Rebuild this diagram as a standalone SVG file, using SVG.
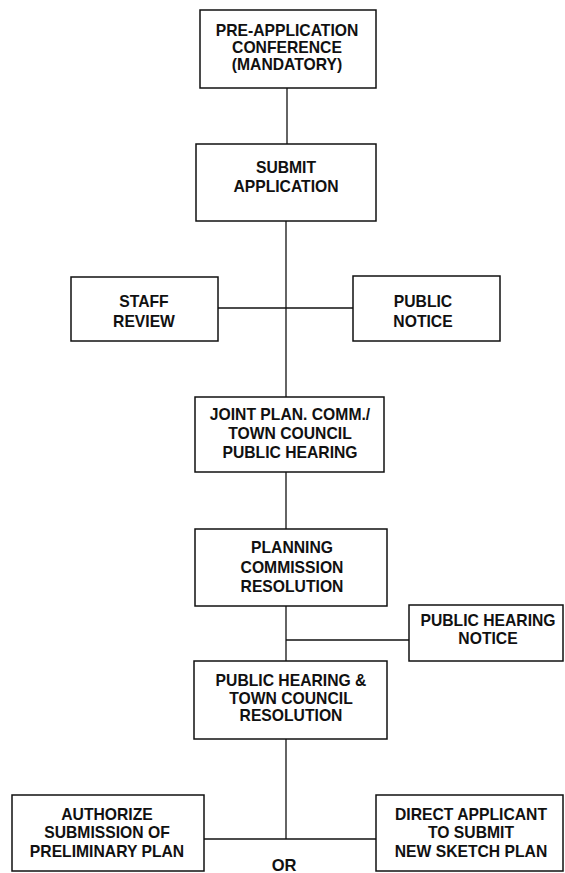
<svg xmlns="http://www.w3.org/2000/svg" width="565" height="873" viewBox="0 0 565 873">
<style>
.box{fill:#fff;stroke:#111;stroke-width:1.5}
.t{font-family:"Liberation Sans",Arial,sans-serif;font-weight:bold;font-size:15.7px;fill:#111;text-anchor:middle}
.c{stroke:#111;stroke-width:1.3;fill:none}
</style>
<rect width="565" height="873" fill="#fff"/>
<g id="connectors">
<line class="c" x1="287" y1="88" x2="287" y2="144"/>
<line class="c" x1="286" y1="221" x2="286" y2="397"/>
<line class="c" x1="218" y1="308" x2="353" y2="308"/>
<line class="c" x1="286" y1="472" x2="286" y2="529"/>
<line class="c" x1="286" y1="606" x2="286" y2="661"/>
<line class="c" x1="286" y1="640" x2="409" y2="640"/>
<line class="c" x1="286" y1="739" x2="286" y2="839"/>
<line class="c" x1="204" y1="839" x2="376" y2="839"/>
</g>
<g id="pre-application">
<rect class="box" x="200" y="10" width="176" height="78"/>
<text class="t" x="287" y="36">PRE-APPLICATION</text>
<text class="t" x="287" y="53">CONFERENCE</text>
<text class="t" x="287" y="70">(MANDATORY)</text>
</g>
<g id="submit">
<rect class="box" x="196" y="144" width="180" height="77"/>
<text class="t" x="286" y="173">SUBMIT</text>
<text class="t" x="286" y="192">APPLICATION</text>
</g>
<g id="staff-review">
<rect class="box" x="71" y="277" width="147" height="64"/>
<text class="t" x="144" y="307">STAFF</text>
<text class="t" x="144" y="327">REVIEW</text>
</g>
<g id="public-notice">
<rect class="box" x="353" y="276" width="147" height="65"/>
<text class="t" x="423" y="307">PUBLIC</text>
<text class="t" x="423" y="327">NOTICE</text>
</g>
<g id="joint-hearing">
<rect class="box" x="195" y="397" width="189" height="75"/>
<text class="t" x="290" y="420">JOINT PLAN. COMM./</text>
<text class="t" x="290" y="439">TOWN COUNCIL</text>
<text class="t" x="290" y="458">PUBLIC HEARING</text>
</g>
<g id="planning-resolution">
<rect class="box" x="195" y="529" width="192" height="77"/>
<text class="t" x="292" y="553">PLANNING</text>
<text class="t" x="292" y="573">COMMISSION</text>
<text class="t" x="292" y="592">RESOLUTION</text>
</g>
<g id="public-hearing-notice">
<rect class="box" x="409" y="605" width="154" height="56"/>
<text class="t" x="488" y="626">PUBLIC HEARING</text>
<text class="t" x="488" y="644">NOTICE</text>
</g>
<g id="council-resolution">
<rect class="box" x="194" y="661" width="193" height="78"/>
<text class="t" x="291" y="686">PUBLIC HEARING &amp;</text>
<text class="t" x="291" y="704">TOWN COUNCIL</text>
<text class="t" x="291" y="721">RESOLUTION</text>
</g>
<g id="authorize">
<rect class="box" x="12" y="795" width="192" height="76"/>
<text class="t" x="107" y="820">AUTHORIZE</text>
<text class="t" x="107" y="838">SUBMISSION OF</text>
<text class="t" x="107" y="857">PRELIMINARY PLAN</text>
</g>
<g id="direct-applicant">
<rect class="box" x="376" y="795" width="187" height="76"/>
<text class="t" x="471" y="820">DIRECT APPLICANT</text>
<text class="t" x="471" y="838">TO SUBMIT</text>
<text class="t" x="471" y="857">NEW SKETCH PLAN</text>
</g>
<g id="or-label">
<text class="t" x="284" y="871" style="font-size:16.5px">OR</text>
</g>
</svg>
